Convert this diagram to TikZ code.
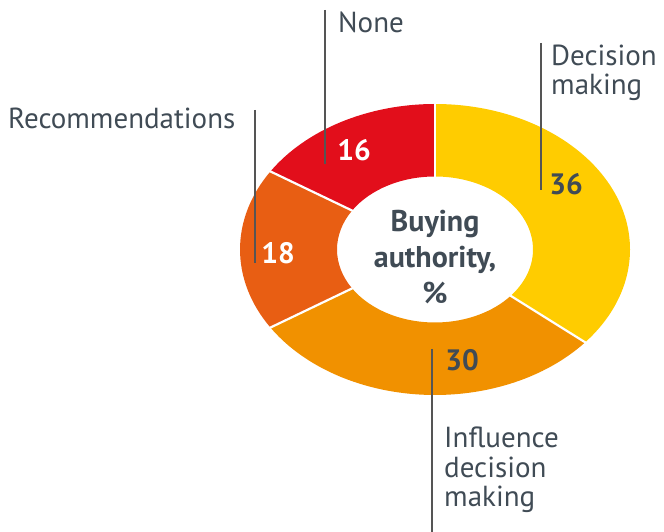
\documentclass[tikz,border=0pt]{standalone}
\usepackage{fontspec}
\setmainfont{PT Sans}
\usetikzlibrary{calc}
\definecolor{cyel}{HTML}{FFCC00}
\definecolor{cora}{HTML}{F19100}
\definecolor{cdor}{HTML}{E85E13}
\definecolor{cred}{HTML}{E20E1B}
\definecolor{ctxt}{HTML}{404B55}
\definecolor{cline}{HTML}{555555}
\tikzset{
  lbl/.style={text=ctxt, font=\fontsize{29}{29.5}\selectfont, align=left, inner sep=0pt},
  num/.style={font=\bfseries\fontsize{29.5}{30}\selectfont, inner sep=0pt},
  leader/.style={draw=cline, line width=1.4pt},
  sep/.style={draw=white, line width=2.2pt}
}
\newcommand{\wedgeseg}[3]{%
  \fill[#3] ($(c)+(#1:195pt and 145.5pt)$) arc[start angle=#1, end angle=#2, x radius=195pt, y radius=145.5pt]
    -- ($(c)+(#2:98pt and 73pt)$) arc[start angle=#2, end angle=#1, x radius=98pt, y radius=73pt] -- cycle;}
\begin{document}
\begin{tikzpicture}[x=1pt,y=1pt]
\useasboundingbox (0,0) rectangle (664,532);
\coordinate (c) at (435,282.5);
\wedgeseg{90}{-39.6}{cyel}
\wedgeseg{-39.6}{-147.6}{cora}
\wedgeseg{-147.6}{-212.4}{cdor}
\wedgeseg{-212.4}{-270}{cred}
\foreach \a in {90,-39.6,-147.6,-212.4}
  \draw[sep] ($(c)+(\a:96pt and 71pt)$) -- ($(c)+(\a:198pt and 148pt)$);
% leader lines
\coordinate (nA) at (325,522); \coordinate (nB) at (325,368);
\coordinate (rA) at (255,422); \coordinate (rB) at (255,269);
\coordinate (dA) at (541,489); \coordinate (dB) at (541,342);
\coordinate (iA) at (432,183); \coordinate (iB) at (432,0);
\draw[leader] (nA) -- (nB);
\draw[leader] (rA) -- (rB);
\draw[leader] (dA) -- (dB);
\draw[leader] (iA) -- (iB);
% labels
\node[lbl, anchor=west] (none) at (338,510) {None};
\node[lbl, anchor=west] (dec) at (551,459) {Decision\\making};
\node[lbl, anchor=west] (rec) at (8,414) {Recommendations};
\node[lbl, anchor=west] (inf) at (444,62) {Influence\\decision\\making};
% numbers
\node[num, text=white] (n16) at (354,382) {16};
\node[num, text=ctxt] (n36) at (566,348) {36};
\node[num, text=white] (n18) at (278,279) {18};
\node[num, text=ctxt] (n30) at (462,172) {30};
% center
\node[num, text=ctxt, align=center, font=\bfseries\fontsize{30}{36}\selectfont] (ctr) at (435,275) {Buying\\authority,\\\%};
\end{tikzpicture}
\end{document}
